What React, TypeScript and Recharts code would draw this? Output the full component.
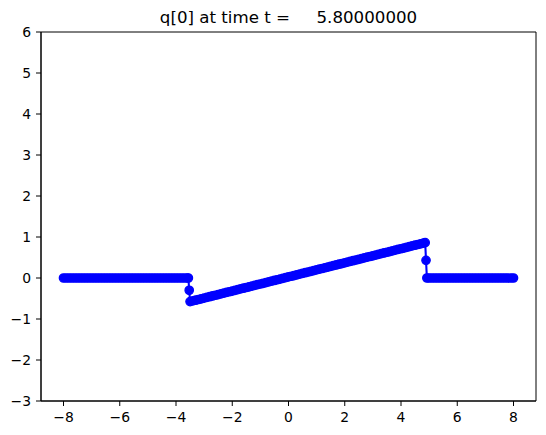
import { LineChart, Line, XAxis, YAxis, ReferenceArea } from "recharts";

// left constant state
const leftX = [
  -8.0, -7.9, -7.8, -7.7, -7.6, -7.5, -7.4, -7.3, -7.2, -7.1,
  -7.0, -6.9, -6.8, -6.7, -6.6, -6.5, -6.4, -6.3, -6.2, -6.1,
  -6.0, -5.9, -5.8, -5.7, -5.6, -5.5, -5.4, -5.3, -5.2, -5.1,
  -5.0, -4.9, -4.8, -4.7, -4.6, -4.5, -4.4, -4.3, -4.2, -4.1,
  -4.0, -3.9, -3.8, -3.7, -3.6, -3.56,
];
const leftQ = [
  0, 0, 0, 0, 0, 0, 0, 0, 0, 0,
  0, 0, 0, 0, 0, 0, 0, 0, 0, 0,
  0, 0, 0, 0, 0, 0, 0, 0, 0, 0,
  0, 0, 0, 0, 0, 0, 0, 0, 0, 0,
  0, 0, 0, 0, 0, 0,
];

// jump on the left side
const leftJumpX = [-3.53];
const leftJumpQ = [-0.3];

// linear fan in the middle
const fanX = [
  -3.5, -3.4, -3.3, -3.2, -3.1, -3.0, -2.9, -2.8, -2.7, -2.6,
  -2.5, -2.4, -2.3, -2.2, -2.1, -2.0, -1.9, -1.8, -1.7, -1.6,
  -1.5, -1.4, -1.3, -1.2, -1.1, -1.0, -0.9, -0.8, -0.7, -0.6,
  -0.5, -0.4, -0.3, -0.2, -0.1, 0.0, 0.1, 0.2, 0.3, 0.4,
  0.5, 0.6, 0.7, 0.8, 0.9, 1.0, 1.1, 1.2, 1.3, 1.4,
  1.5, 1.6, 1.7, 1.8, 1.9, 2.0, 2.1, 2.2, 2.3, 2.4,
  2.5, 2.6, 2.7, 2.8, 2.9, 3.0, 3.1, 3.2, 3.3, 3.4,
  3.5, 3.6, 3.7, 3.8, 3.9, 4.0, 4.1, 4.2, 4.3, 4.4,
  4.5, 4.6, 4.7, 4.8, 4.86,
];
const fanQ = [
  -0.576, -0.559, -0.542, -0.524, -0.507, -0.49, -0.473, -0.456, -0.438, -0.421,
  -0.404, -0.387, -0.37, -0.352, -0.335, -0.318, -0.301, -0.284, -0.266, -0.249,
  -0.232, -0.215, -0.198, -0.18, -0.163, -0.146, -0.129, -0.112, -0.094, -0.077,
  -0.06, -0.043, -0.026, -0.008, 0.009, 0.026, 0.043, 0.06, 0.078, 0.095,
  0.112, 0.129, 0.146, 0.164, 0.181, 0.198, 0.215, 0.232, 0.25, 0.267,
  0.284, 0.301, 0.318, 0.336, 0.353, 0.37, 0.387, 0.404, 0.422, 0.439,
  0.456, 0.473, 0.49, 0.508, 0.525, 0.542, 0.559, 0.576, 0.594, 0.611,
  0.628, 0.645, 0.662, 0.68, 0.697, 0.714, 0.731, 0.748, 0.766, 0.783,
  0.8, 0.817, 0.834, 0.852, 0.862,
];

// jump on the right side
const rightJumpX = [4.89];
const rightJumpQ = [0.43];

// right constant state
const rightX = [
  4.92, 5.0, 5.1, 5.2, 5.3, 5.4, 5.5, 5.6, 5.7, 5.8, 5.9,
  6.0, 6.1, 6.2, 6.3, 6.4, 6.5, 6.6, 6.7, 6.8, 6.9,
  7.0, 7.1, 7.2, 7.3, 7.4, 7.5, 7.6, 7.7, 7.8, 7.9, 8.0,
];
const rightQ = [
  0, 0, 0, 0, 0, 0, 0, 0, 0, 0, 0,
  0, 0, 0, 0, 0, 0, 0, 0, 0, 0,
  0, 0, 0, 0, 0, 0, 0, 0, 0, 0, 0,
];

const xTicks = [-8, -6, -4, -2, 0, 2, 4, 6, 8];
const yTicks = [-3, -2, -1, 0, 1, 2, 3, 4, 5, 6];
const titleText = "q[0] at time t =     5.80000000";

const allX = [...leftX, ...leftJumpX, ...fanX, ...rightJumpX, ...rightX];
const allQ = [...leftQ, ...leftJumpQ, ...fanQ, ...rightJumpQ, ...rightQ];
const data = allX.map((x, i) => ({ x, q: allQ[i] }));

const font = "DejaVu Sans, sans-serif";
const fmt = (v: number) => (v < 0 ? `\u2212${-v}` : `${v}`);
const tickStyle = { fill: "#000", fontSize: 13.9, fontFamily: font };

export default function App() {
  return (
    <div style={{ position: "absolute", left: 0, top: 0, width: 546, height: 435, background: "#fff" }}>
      <LineChart width={546} height={435} data={data} margin={{ top: 32, right: 10, left: 0, bottom: 0 }}>
        <XAxis
          type="number"
          dataKey="x"
          domain={[-8.8, 8.8]}
          ticks={xTicks}
          tickFormatter={fmt}
          allowDataOverflow
          height={34}
          tick={tickStyle}
          tickSize={5}
          tickMargin={6}
          tickLine={{ stroke: "#000" }}
          axisLine={{ stroke: "#000" }}
        />
        <YAxis
          type="number"
          domain={[-3, 6]}
          ticks={yTicks}
          tickFormatter={fmt}
          allowDataOverflow
          width={41}
          tick={tickStyle}
          tickSize={5}
          tickMargin={5}
          tickLine={{ stroke: "#000" }}
          axisLine={{ stroke: "#000" }}
        />
        <ReferenceArea x1={-8.8} x2={8.8} y1={-3} y2={6} fill="none" stroke="#000" strokeWidth={1} ifOverflow="visible" />
        <Line
          type="linear"
          dataKey="q"
          stroke="#0000ff"
          strokeWidth={2.1}
          dot={{ r: 4.2, fill: "#0000ff", stroke: "#0000ff", strokeWidth: 1.3 }}
          activeDot={false}
          isAnimationActive={false}
        />
      </LineChart>
      <svg width={546} height={40} style={{ position: "absolute", left: 0, top: 0 }}>
        <text x={288.5} y={23} textAnchor="middle" fontSize={16.67} fontFamily={font} fill="#000" style={{ whiteSpace: "pre" }}>
          {titleText}
        </text>
      </svg>
    </div>
  );
}
